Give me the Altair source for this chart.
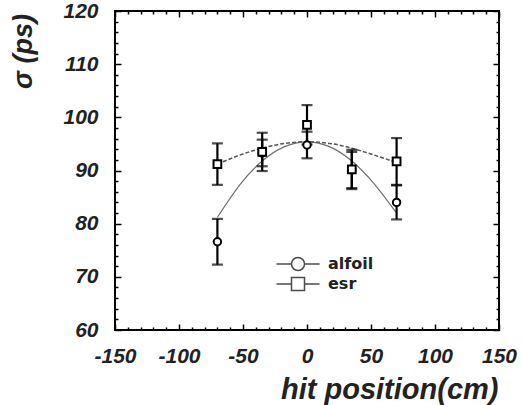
import altair as alt
import pandas as pd

# ---- data ----
positions = [-70, -35, 0, 35, 70]
alfoil_sigma = [76.6, 93.3, 94.8, 90.1, 84.0]
alfoil_err = [4.3, 2.5, 2.5, 3.4, 3.2]
esr_sigma = [91.2, 93.5, 98.6, 90.2, 91.7]
esr_err = [3.9, 3.6, 3.7, 3.7, 4.4]

fit_x = [-70, -52.5, -35, -17.5, 0, 17.5, 35, 52.5, 70]
alfoil_fit = [81.2, 87.3, 91.8, 94.5, 95.4, 94.5, 91.8, 87.5, 82.0]
esr_fit = [91.2, 92.9, 94.2, 95.1, 95.4, 95.1, 94.2, 92.9, 91.5]

series_names = ["alfoil", "esr"]

x_major = [-150, -100, -50, 0, 50, 100, 150]
x_minor = [-140, -130, -120, -110, -90, -80, -70, -60, -40, -30, -20, -10,
           10, 20, 30, 40, 60, 70, 80, 90, 110, 120, 130, 140]
y_major = [60, 70, 80, 90, 100, 110, 120]
y_minor = [62, 64, 66, 68, 72, 74, 76, 78, 82, 84, 86, 88, 92, 94, 96, 98,
           102, 104, 106, 108, 112, 114, 116, 118]

# ---- tables ----
rows = []
for name, sig, err in (("alfoil", alfoil_sigma, alfoil_err), ("esr", esr_sigma, esr_err)):
    for p, s, e in zip(positions, sig, err):
        rows.append({"position": p, "series": name, "sigma": s, "lo": s - e, "hi": s + e})
df = pd.DataFrame(rows)

fit_rows = []
for name, vals in (("alfoil", alfoil_fit), ("esr", esr_fit)):
    for p, v in zip(fit_x, vals):
        fit_rows.append({"position": p, "series": name, "sigma": v})
fit_df = pd.DataFrame(fit_rows)

FONT = "Liberation Sans"
xs = alt.Scale(domain=[-150, 150], nice=False, zero=False)
ys = alt.Scale(domain=[60, 120], nice=False, zero=False)


def X(axis=None):
    return alt.X("position:Q", scale=xs, axis=axis)


def Y(f="sigma:Q", axis=None):
    return alt.Y(f, scale=ys, axis=axis)


base = alt.Chart(df)

# fitted curves
alfoil_line = alt.Chart(fit_df).transform_filter("datum.series == 'alfoil'").mark_line(
    color="#707070", strokeWidth=1.2, interpolate="natural"
).encode(x=X(), y=Y())
esr_line = alt.Chart(fit_df).transform_filter("datum.series == 'esr'").mark_line(
    color="#555555", strokeWidth=1.5, strokeDash=[4, 2], interpolate="natural"
).encode(x=X(), y=Y())

# error bars
bars = base.mark_rule(color="black", strokeWidth=2.2).encode(
    x=X(), y=Y("lo:Q"), y2="hi:Q"
)
caps_lo = base.mark_tick(color="black", orient="horizontal", size=11, thickness=2.2).encode(
    x=X(), y=Y("lo:Q")
)
caps_hi = base.mark_tick(color="black", orient="horizontal", size=11, thickness=2.2).encode(
    x=X(), y=Y("hi:Q")
)

# markers
circles = base.transform_filter("datum.series == 'alfoil'").mark_point(
    shape="circle", filled=True, fill="white", stroke="black", strokeWidth=2, size=55, opacity=1
).encode(x=X(), y=Y())
squares = base.transform_filter("datum.series == 'esr'").mark_point(
    shape="square", filled=True, fill="white", stroke="black", strokeWidth=2, size=60, opacity=1
).encode(x=X(), y=Y())

# legend (line + marker symbols)
circle_path = "M-4.3,0H-1.3M1.3,0H4.3M-1.3,0A1.3,1.3 0 1,0 1.3,0A1.3,1.3 0 1,0 -1.3,0Z"
square_path = "M-4.3,0H-1.3M1.3,0H4.3M-1.3,-1.3H1.3V1.3H-1.3Z"
legend_layer = base.transform_filter("false").mark_point(filled=False, color="black").encode(
    x=X(), y=Y(),
    shape=alt.Shape(
        "series:N",
        scale=alt.Scale(domain=series_names, range=[circle_path, square_path]),
        legend=alt.Legend(
            title=None, orient="none", legendX=175, legendY=245,
            symbolSize=100, symbolStrokeWidth=1.5, symbolStrokeColor="black",
            symbolFillColor="white", labelFont="DejaVu Sans", labelFontSize=16,
            labelFontWeight="bold", labelColor="#222222", labelOffset=22,
            rowPadding=0, padding=0,
        ),
    ),
)


# axes (inward ticks on all four sides)
def ax(orient, values, size, **kw):
    return alt.Axis(orient=orient, values=values, tickSize=size, offset=-size,
                    domain=False, grid=False, tickColor="black", tickWidth=1.5,
                    zindex=1, **kw)


lab = dict(labelFont=FONT, labelFontSize=21, labelFontStyle="italic",
           labelFontWeight="bold", labelColor="#222222", labelOverlap=False,
           labelExpr="datum.value")
tit = dict(titleFont=FONT, titleFontStyle="italic", titleFontWeight="bold",
           titleColor="#222222")

axis_main = base.transform_filter("false").mark_point().encode(
    x=X(ax("bottom", x_major, 6, labelPadding=15, labelFlush=False,
           title="hit position(cm)", titleFontSize=29, titleX=383, titleY=65,
           titleAlign="right", titleBaseline="middle", **lab, **tit)),
    y=Y(axis=ax("left", y_major, 6, labelPadding=17,
                title="σ (ps)", titleFontSize=27, titleX=-98, titleY=40,
                titleAlign="center", titleBaseline="middle", titleAngle=270, **lab, **tit)),
)
axis_minor = base.transform_filter("false").mark_point().encode(
    x=X(ax("bottom", x_minor, 3, labels=False, title=None)),
    y=Y(axis=ax("left", y_minor, 3, labels=False, title=None)),
)
axis_opp = base.transform_filter("false").mark_point().encode(
    x=X(ax("top", x_major, 6, labels=False, title=None)),
    y=Y(axis=ax("right", y_major, 6, labels=False, title=None)),
)
axis_opp_minor = base.transform_filter("false").mark_point().encode(
    x=X(ax("top", x_minor, 3, labels=False, title=None)),
    y=Y(axis=ax("right", y_minor, 3, labels=False, title=None)),
)

chart = alt.layer(
    alfoil_line, esr_line, bars, caps_lo, caps_hi, circles, squares, legend_layer,
    axis_main, axis_minor, axis_opp, axis_opp_minor,
).resolve_axis(x="independent", y="independent").properties(
    width=384, height=319,
    padding={"left": 115, "top": 11, "right": 23, "bottom": 75},
    autosize=alt.AutoSizeParams(type="none"),
).configure_view(stroke="black", strokeWidth=2)

chart.save("out.html", embed_options={"renderer": "svg", "actions": False})
